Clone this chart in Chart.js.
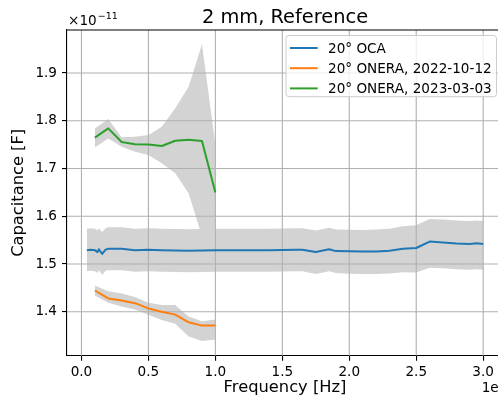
<!DOCTYPE html>
<html>
<head>
<meta charset="utf-8">
<script src="https://cdn.jsdelivr.net/npm/chart.js@4"></script>
<style>
html,body{margin:0;padding:0;overflow:hidden;background:#fff;}
#wrap{width:510px;height:403px;position:relative;}
</style>
</head>
<body>
<div id="wrap"><canvas id="c"></canvas></div>
<script>
// Frequencies in units of 1e7 Hz, capacitances in units of 1e-11 F
const titleText = '2 mm, Reference';
const xLabel = 'Frequency [Hz]';
const yLabel = 'Capacitance [F]';
const xTicks = [0.0, 0.5, 1.0, 1.5, 2.0, 2.5, 3.0];
const yTicks = [1.4, 1.5, 1.6, 1.7, 1.8, 1.9];

const seriesNames = ['20° OCA', '20° ONERA, 2022-10-12', '20° ONERA, 2023-03-03'];
const seriesColors = ['#1f77b4', '#ff7f0e', '#2ca02c'];

const ocaFreq = [0.04, 0.07, 0.10, 0.12, 0.13, 0.155, 0.18, 0.2, 0.3, 0.4, 0.5, 0.6, 0.8, 1.0, 1.2, 1.4, 1.6, 1.65, 1.75, 1.85, 1.9, 2.0, 2.1, 2.2, 2.3, 2.4, 2.5, 2.6, 2.7, 2.8, 2.9, 2.95, 3.0];
const ocaCap  = [1.529, 1.530, 1.529, 1.525, 1.531, 1.521, 1.530, 1.532, 1.532, 1.529, 1.530, 1.529, 1.528, 1.529, 1.529, 1.529, 1.530, 1.530, 1.525, 1.531, 1.527, 1.5265, 1.526, 1.526, 1.528, 1.532, 1.5335, 1.547, 1.545, 1.543, 1.542, 1.5435, 1.542];
const ocaHigh = [1.574, 1.575, 1.574, 1.570, 1.575, 1.567, 1.575, 1.577, 1.577, 1.574, 1.575, 1.574, 1.573, 1.574, 1.574, 1.574, 1.575, 1.575, 1.570, 1.576, 1.572, 1.5715, 1.571, 1.572, 1.574, 1.579, 1.581, 1.594, 1.593, 1.591, 1.590, 1.591, 1.590];
const ocaLow  = [1.485, 1.486, 1.485, 1.481, 1.487, 1.477, 1.486, 1.487, 1.487, 1.484, 1.485, 1.484, 1.483, 1.484, 1.484, 1.484, 1.485, 1.485, 1.479, 1.485, 1.481, 1.4795, 1.479, 1.479, 1.480, 1.483, 1.482, 1.492, 1.491, 1.489, 1.488, 1.489, 1.488];

const onera1Freq = [0.1, 0.2, 0.3, 0.4, 0.5, 0.6, 0.7, 0.8, 0.9, 1.0];
const onera1Cap  = [1.4445, 1.428, 1.4235, 1.418, 1.407, 1.400, 1.394, 1.378, 1.371, 1.371];
const onera1High = [1.455, 1.443, 1.438, 1.431, 1.419, 1.414, 1.414, 1.390, 1.380, 1.384];
const onera1Low  = [1.434, 1.419, 1.411, 1.405, 1.394, 1.383, 1.375, 1.348, 1.339, 1.342];

const onera2Freq = [0.1, 0.2, 0.3, 0.4, 0.5, 0.6, 0.7, 0.8, 0.9, 1.0];
const onera2Cap  = [1.7645, 1.784, 1.7555, 1.751, 1.750, 1.747, 1.758, 1.760, 1.7577, 1.6497];
const onera2High = [1.784, 1.8035, 1.7653, 1.7666, 1.770, 1.7875, 1.826, 1.871, 1.960, 1.750];
const onera2Low  = [1.7437, 1.763, 1.7457, 1.7353, 1.7284, 1.711, 1.690, 1.648, 1.558, 1.550];

const xMin = -0.108, xMax = 3.148;
const yMin = 1.308, yMax = 1.990;

const BAND = '#d3d3d3';
const GRID = '#b0b0b0';
const FONT = '"DejaVu Sans", "Liberation Sans", sans-serif';

function pts(xs, ys){ return xs.map((x,i)=>({x:x, y:ys[i]})); }

function bandPair(xs, hi, lo){
  return [
    {label:'_band', data:pts(xs, hi), fill:'+1', backgroundColor:BAND, borderWidth:0, pointRadius:0, isBand:true},
    {label:'_band', data:pts(xs, lo), fill:false, backgroundColor:BAND, borderWidth:0, pointRadius:0, isBand:true}
  ];
}
function lineDs(i, xs, ys){
  return {label:seriesNames[i], data:pts(xs, ys), borderColor:seriesColors[i], backgroundColor:seriesColors[i], borderWidth:2, pointRadius:0, fill:false, tension:0, isBand:false};
}

const datasets = [
  ...bandPair(ocaFreq, ocaHigh, ocaLow),
  ...bandPair(onera1Freq, onera1High, onera1Low),
  ...bandPair(onera2Freq, onera2High, onera2Low),
  lineDs(0, ocaFreq, ocaCap),
  lineDs(1, onera1Freq, onera1Cap),
  lineDs(2, onera2Freq, onera2Cap)
];

const gridPlugin = {
  id:'gridAboveFill',
  beforeDatasetsDraw(chart){
    const ctx = chart.ctx, a = chart.chartArea;
    const xs = chart.scales.x, ys = chart.scales.y;
    ctx.save();
    ctx.beginPath(); ctx.rect(a.left, a.top, a.right-a.left, a.bottom-a.top); ctx.clip();
    ctx.strokeStyle = GRID; ctx.lineWidth = 1.1;
    xTicks.forEach(v=>{
      const px = xs.getPixelForValue(v);
      ctx.beginPath(); ctx.moveTo(px, a.top); ctx.lineTo(px, a.bottom); ctx.stroke();
    });
    yTicks.forEach(v=>{
      const py = ys.getPixelForValue(v);
      ctx.beginPath(); ctx.moveTo(a.left, py); ctx.lineTo(a.right, py); ctx.stroke();
    });
    ctx.restore();
  },
  afterDraw(chart){
    const ctx = chart.ctx, a = chart.chartArea;
    ctx.save();
    // top and right spines
    ctx.strokeStyle = '#000'; ctx.lineWidth = 1.1;
    ctx.beginPath(); ctx.moveTo(a.left, a.top); ctx.lineTo(a.right, a.top); ctx.lineTo(a.right, a.bottom); ctx.stroke();
    // title
    ctx.fillStyle = '#000';
    ctx.font = '19.4px ' + FONT;
    ctx.textAlign = 'center'; ctx.textBaseline = 'alphabetic';
    ctx.fillText(titleText, (a.left + a.right)/2, 22.5);
    // offset texts
    ctx.textAlign = 'left';
    ctx.font = '13.6px ' + FONT;
    ctx.fillText('×10', a.left + 1, 25);
    const w = ctx.measureText('×10').width;
    ctx.font = '9.5px ' + FONT;
    ctx.fillText('−11', a.left + 1 + w + 1, 18.5);
    ctx.font = '13.6px ' + FONT;
    ctx.fillText('1e7', 481.7, 391.5);
    // legend
    const lx = 286, ly = 35.5, lw = 210.5, lh = 61.2, r = 3;
    ctx.beginPath();
    ctx.moveTo(lx + r, ly);
    ctx.lineTo(lx + lw - r, ly); ctx.arcTo(lx + lw, ly, lx + lw, ly + r, r);
    ctx.lineTo(lx + lw, ly + lh - r); ctx.arcTo(lx + lw, ly + lh, lx + lw - r, ly + lh, r);
    ctx.lineTo(lx + r, ly + lh); ctx.arcTo(lx, ly + lh, lx, ly + lh - r, r);
    ctx.lineTo(lx, ly + r); ctx.arcTo(lx, ly, lx + r, ly, r);
    ctx.closePath();
    ctx.fillStyle = 'rgba(255,255,255,0.8)'; ctx.fill();
    ctx.strokeStyle = '#cccccc'; ctx.lineWidth = 1; ctx.stroke();
    const lines = chart.data.datasets.filter(d=>!d.isBand);
    lines.forEach((d, i)=>{
      const yMid = 48 + i*20.2;
      ctx.strokeStyle = d.borderColor; ctx.lineWidth = 2;
      ctx.beginPath(); ctx.moveTo(290, yMid); ctx.lineTo(317.7, yMid); ctx.stroke();
      ctx.fillStyle = '#000'; ctx.font = '13.6px ' + FONT;
      ctx.textAlign = 'left'; ctx.textBaseline = 'alphabetic';
      ctx.fillText(d.label, 328, yMid + 5);
    });
    ctx.restore();
  }
};

Chart.defaults.font.family = FONT;
Chart.defaults.color = '#000';

new Chart(document.getElementById('c'), {
  type:'line',
  data:{datasets:datasets},
  options:{
    responsive:true, maintainAspectRatio:false, devicePixelRatio:1, animation:false,
    layout:{padding:{left:0, right:7, top:30, bottom:0}},
    plugins:{legend:{display:false}, tooltip:{enabled:false}, filler:{drawTime:'beforeDatasetsDraw'}},
    elements:{line:{borderCapStyle:'butt', borderJoinStyle:'round'}},
    scales:{
      x:{
        type:'linear', min:xMin, max:xMax,
        afterBuildTicks(s){ s.ticks = xTicks.map(v=>({value:v})); },
        afterFit(s){ s.height = 47.3; },
        ticks:{autoSkip:false, maxRotation:0, padding:4, font:{size:13.6}, color:'#000',
          callback:(v)=>Number(v).toFixed(1)},
        grid:{drawOnChartArea:false, color:'#000', tickLength:5, lineWidth:1.1},
        border:{color:'#000', width:1.1},
        title:{display:true, text:xLabel, font:{size:16.3}, color:'#000', padding:{top:0, bottom:5.2}}
      },
      y:{
        type:'linear', min:yMin, max:yMax,
        afterBuildTicks(s){ s.ticks = yTicks.map(v=>({value:v})); },
        afterFit(s){ s.width = 67; },
        ticks:{autoSkip:false, padding:5, font:{size:13.6}, color:'#000',
          callback:(v)=>Number(v).toFixed(1)},
        grid:{drawOnChartArea:false, color:'#000', tickLength:5, lineWidth:1.1},
        border:{color:'#000', width:1.1},
        title:{display:true, text:yLabel, font:{size:16.3}, color:'#000', padding:{top:8.5, bottom:0}}
      }
    }
  },
  plugins:[gridPlugin]
});
</script>
</body>
</html>
